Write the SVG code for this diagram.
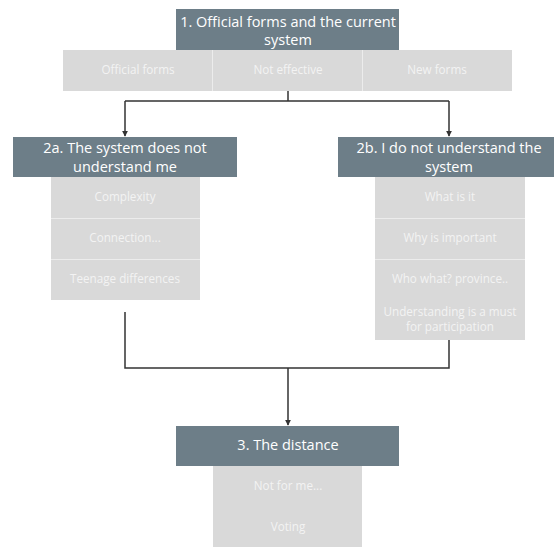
<svg xmlns="http://www.w3.org/2000/svg" width="554" height="551" viewBox="0 0 554 551">
<style>
.hd{fill:#6d7e88}
.cell{fill:#d9d9d9}
.div{stroke:#ececec;stroke-width:1}
.ht{font-family:"Open Sans","Liberation Sans",sans-serif;font-size:14.5px;fill:#ffffff;text-anchor:middle}
.ct{font-family:"Open Sans","Liberation Sans",sans-serif;font-size:11.7px;fill:#f3f3f3;text-anchor:middle}
.ln{fill:none;stroke:#333333;stroke-width:1.5}
</style>
<defs>
<marker id="ah" viewBox="0 0 8 8" refX="7" refY="4" markerWidth="6" markerHeight="6" orient="auto" markerUnits="userSpaceOnUse">
<path d="M0,0 L8,4 L0,8 z" fill="#333333"/>
</marker>
</defs>
<rect width="554" height="551" fill="#ffffff"/>
<g id="connectors">
<path class="ln" d="M288,91 V101 M125,101 H449"/>
<path class="ln" d="M125,101 V136" marker-end="url(#ah)"/>
<path class="ln" d="M449,101 V136" marker-end="url(#ah)"/>
<path class="ln" d="M125,312 V368 H449 V340"/>
<path class="ln" d="M288,368 V425" marker-end="url(#ah)"/>
</g>
<g id="node1">
<rect class="hd" x="176" y="9" width="223" height="41"/>
<text class="ht" x="288" y="27">1. Official forms and the current</text>
<text class="ht" x="288" y="45">system</text>
<rect class="cell" x="63" y="50" width="449" height="41"/>
<line class="div" x1="212.5" y1="50" x2="212.5" y2="91"/>
<line class="div" x1="362.5" y1="50" x2="362.5" y2="91"/>
<text class="ct" x="138" y="74">Official forms</text>
<text class="ct" x="288" y="74">Not effective</text>
<text class="ct" x="437" y="74">New forms</text>
</g>
<g id="node2a">
<rect class="hd" x="13" y="137" width="224" height="40"/>
<text class="ht" x="125" y="153">2a. The system does not</text>
<text class="ht" x="125" y="172">understand me</text>
<rect class="cell" x="51" y="177" width="149" height="123"/>
<line class="div" x1="51" y1="218.5" x2="200" y2="218.5"/>
<line class="div" x1="51" y1="259.5" x2="200" y2="259.5"/>
<text class="ct" x="125" y="201">Complexity</text>
<text class="ct" x="125" y="242">Connection...</text>
<text class="ct" x="125" y="283">Teenage differences</text>
</g>
<g id="node2b">
<rect class="hd" x="338" y="137" width="224" height="40"/>
<text class="ht" x="449" y="153">2b. I do not understand the</text>
<text class="ht" x="449" y="172">system</text>
<rect class="cell" x="375" y="177" width="150" height="163"/>
<line class="div" x1="375" y1="218.5" x2="525" y2="218.5"/>
<line class="div" x1="375" y1="259.5" x2="525" y2="259.5"/>
<text class="ct" x="450" y="201">What is it</text>
<text class="ct" x="450" y="242">Why is important</text>
<text class="ct" x="450" y="283">Who what? province..</text>
<text class="ct" x="450" y="316">Understanding is a must</text>
<text class="ct" x="450" y="331">for participation</text>
</g>
<g id="node3">
<rect class="hd" x="176" y="426" width="223" height="40"/>
<text class="ht" x="288" y="450">3. The distance</text>
<rect class="cell" x="213" y="466" width="149" height="81"/>
<text class="ct" x="288" y="490">Not for me...</text>
<text class="ct" x="288" y="531">Voting</text>
</g>
</svg>
